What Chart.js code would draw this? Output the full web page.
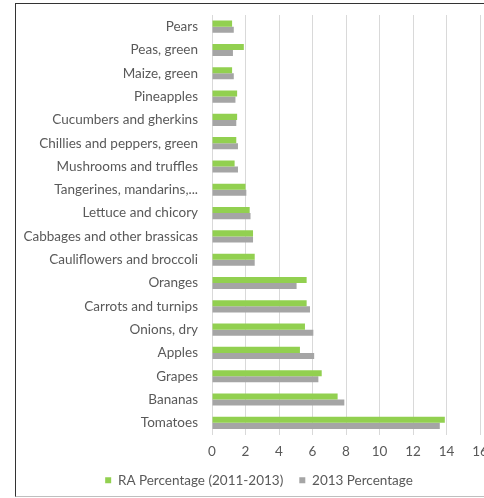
<!DOCTYPE html>
<html>
<head>
<meta charset="utf-8">
<script src="https://cdn.jsdelivr.net/npm/chart.js@4"></script>
<style>
    body { margin: 0; width: 484px; height: 498px; overflow: hidden; background: #fff; }
    #frame {
        position: absolute; left: 15px; top: 3px; width: 600px; height: 492px;
        border-left: 1px solid #333; border-top: 1px solid #333; border-bottom: 1px solid #bfbfbf;
    }
    #wrap { position: absolute; left: 0; top: 0; width: 484px; height: 496px; }
</style>
</head>
<body>
<div id="frame"></div>
<div id="wrap"><canvas id="fruitChart"></canvas></div>
<script>
// Kategorie shora dolů
const categories = [
    'Pears', 'Peas, green', 'Maize, green', 'Pineapples', 'Cucumbers and gherkins',
    'Chillies and peppers, green', 'Mushrooms and truffles', 'Tangerines, mandarins,...',
    'Lettuce and chicory', 'Cabbages and other brassicas', 'Cauliflowers and broccoli',
    'Oranges', 'Carrots and turnips', 'Onions, dry', 'Apples', 'Grapes', 'Bananas', 'Tomatoes'
];
const raPercentage = [1.2, 1.9, 1.2, 1.5, 1.5, 1.45, 1.35, 2.0, 2.25, 2.45, 2.55, 5.65, 5.65, 5.55, 5.25, 6.55, 7.5, 13.9];
const percentage2013 = [1.3, 1.25, 1.3, 1.4, 1.45, 1.55, 1.55, 2.05, 2.3, 2.45, 2.55, 5.05, 5.85, 6.05, 6.1, 6.35, 7.9, 13.6];
const xTicks = [0, 2, 4, 6, 8, 10, 12, 14, 16];

const textColor = '#595959';
const font = { family: 'Lato', size: 13.5 };

// Posun legendy doprava (v originále je vycentrovaná pod celým rámečkem)
const shiftLegend = {
    id: 'shiftLegend',
    afterLayout: function(chart) {
        const legend = chart.legend;
        legend.left += 19;
        legend.right += 19;
        legend.top += 1;
        legend.bottom += 1;
    }
};

document.addEventListener('DOMContentLoaded', function() {
    const ctx = document.getElementById('fruitChart').getContext('2d');

    new Chart(ctx, {
        type: 'bar',
        data: {
            labels: categories,
            datasets: [
                {
                    label: 'RA Percentage (2011-2013)',
                    data: raPercentage,
                    backgroundColor: '#92d050'
                },
                {
                    label: '2013 Percentage',
                    data: percentage2013,
                    backgroundColor: '#a5a5a5'
                }
            ]
        },
        options: {
            indexAxis: 'y',
            responsive: true,
            maintainAspectRatio: false,
            animation: false,
            layout: { padding: { top: 15, right: 4, left: 0, bottom: 0 } },
            datasets: { bar: { categoryPercentage: 0.52, barPercentage: 1.0 } },
            scales: {
                x: {
                    min: xTicks[0],
                    max: xTicks[xTicks.length - 1],
                    afterBuildTicks: function(scale) {
                        scale.ticks = xTicks.map(v => ({ value: v }));
                    },
                    afterFit: function(scale) {
                        scale.height = 22;
                        scale.paddingLeft = 0;
                        scale.paddingRight = 0;
                    },
                    ticks: { color: textColor, font: font, padding: 9 },
                    grid: { color: '#d9d9d9', drawTicks: false },
                    border: { display: false }
                },
                y: {
                    afterFit: function(scale) {
                        scale.width = 212;
                        scale.paddingTop = 0;
                        scale.paddingBottom = 0;
                    },
                    ticks: { color: textColor, font: font, padding: 14, autoSkip: false },
                    grid: { display: false, drawTicks: false },
                    border: { display: true, color: '#d9d9d9' }
                }
            },
            plugins: {
                legend: {
                    position: 'bottom',
                    labels: {
                        boxWidth: 6,
                        boxHeight: 6,
                        padding: 16,
                        color: textColor,
                        font: font
                    }
                },
                tooltip: { enabled: false }
            }
        },
        plugins: [shiftLegend]
    });
});
</script>
</body>
</html>
